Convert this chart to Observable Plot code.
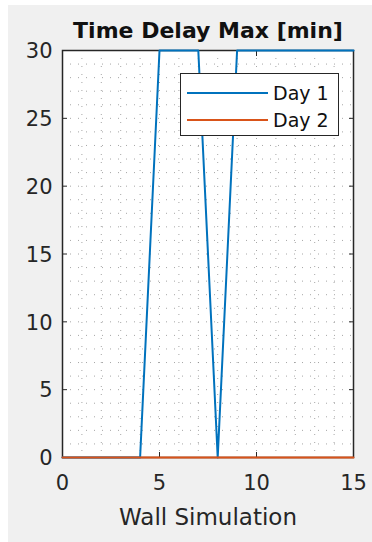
<!DOCTYPE html>
<html>
<head>
<meta charset="utf-8">
<script src="https://cdn.jsdelivr.net/npm/d3@7"></script>
<script src="https://cdn.jsdelivr.net/npm/@observablehq/plot@0.6"></script>
<style>
  html, body { margin: 0; padding: 0; background: #ffffff; }
  body { width: 372px; height: 542px; position: relative; overflow: hidden; font-family: "DejaVu Sans", sans-serif; }
  #panel { position: absolute; left: 8px; top: 5px; width: 364px; height: 537px; background: #f0f0f0; }
  #chart { position: absolute; left: 0; top: 0; }
  #legend { position: absolute; left: 180px; top: 73px; width: 157px; height: 61px; background: #fff; border: 1px solid #262626; }
  .item { position: absolute; left: 0; height: 24px; width: 157px; }
  .item svg { position: absolute; left: 6px; top: 0; }
  .item span { position: absolute; left: 92px; top: 0px; font-size: 19px; color: #111; line-height: 24px; }
</style>
</head>
<body>
<div id="panel"></div>
<div id="chart"></div>
<div id="legend"></div>
<script>
const title = "Time Delay Max [min]";
const xLabel = "Wall Simulation";
const seriesNames = ["Day 1", "Day 2"];
const seriesColors = ["#0072BD", "#D95319"];
const simulation = [0, 1, 2, 3, 4, 5, 6, 7, 8, 9, 10, 11, 12, 13, 14, 15];
const day1 = [0, 0, 0, 0, 0, 30, 30, 30, 0, 30, 30, 30, 30, 30, 30, 30];
const day2 = [0, 0, 0, 0, 0, 0, 0, 0, 0, 0, 0, 0, 0, 0, 0, 0];
const xTicks = [0, 5, 10, 15];
const yTicks = [0, 5, 10, 15, 20, 25, 30];

const rows1 = simulation.map((x, i) => ({x, y: day1[i]}));
const rows2 = simulation.map((x, i) => ({x, y: day2[i]}));
const minorX = d3.range(0, 15.01, 1);
const minorY = d3.range(0, 30.01, 1);

const chart = Plot.plot({
  width: 372,
  height: 542,
  marginLeft: 62,
  marginRight: 19,
  marginTop: 50,
  marginBottom: 85,
  style: {background: "transparent", fontFamily: "'DejaVu Sans', sans-serif", color: "#262626", overflow: "visible"},
  x: {domain: [0, 15]},
  y: {domain: [0, 30]},
  marks: [
    Plot.frame({fill: "#ffffff", stroke: null}),
    Plot.gridX(minorX, {stroke: "#808080", strokeOpacity: 0.7, strokeDasharray: "1,7"}),
    Plot.gridY(minorY, {stroke: "#808080", strokeOpacity: 0.7, strokeDasharray: "1,7"}),
    Plot.axisX(xTicks, {anchor: "bottom", tickSize: 5, dy: -5, text: null, label: null, stroke: "#262626"}),
    Plot.axisX(xTicks, {anchor: "top", tickSize: 5, dy: 5, text: null, label: null, stroke: "#262626"}),
    Plot.axisY(yTicks, {anchor: "left", tickSize: 5, dx: 5, text: null, label: null, stroke: "#262626"}),
    Plot.axisY(yTicks, {anchor: "right", tickSize: 5, dx: -5, text: null, label: null, stroke: "#262626"}),
    Plot.axisX(xTicks, {anchor: "bottom", tickSize: 0, tickPadding: 18, fontSize: 21, label: null, fill: "#262626"}),
    Plot.axisY(yTicks, {anchor: "left", tickSize: 0, tickPadding: 10, fontSize: 21, label: null, fill: "#262626", dy: 1}),
    Plot.frame({stroke: "#262626", strokeWidth: 1.5}),
    Plot.line(rows1, {x: "x", y: "y", stroke: seriesColors[0], strokeWidth: 2}),
    Plot.line(rows2, {x: "x", y: "y", stroke: seriesColors[1], strokeWidth: 2}),
    Plot.text([title], {frameAnchor: "top", lineAnchor: "middle", dy: -20, fontSize: 22, fontWeight: "bold", fill: "#111", text: d => d}),
    Plot.text([xLabel], {frameAnchor: "bottom", lineAnchor: "middle", dy: 60, fontSize: 23, fill: "#262626", text: d => d})
  ]
});
document.getElementById("chart").appendChild(chart);

const legend = document.getElementById("legend");
seriesNames.forEach((name, i) => {
  const item = document.createElement("div");
  item.className = "item";
  item.style.top = (7 + i * 27) + "px";
  item.innerHTML = `<svg width="82" height="24"><line x1="0" x2="81" y1="12" y2="12" stroke="${seriesColors[i]}" stroke-width="2"/></svg><span>${name}</span>`;
  legend.appendChild(item);
});
</script>
</body>
</html>
